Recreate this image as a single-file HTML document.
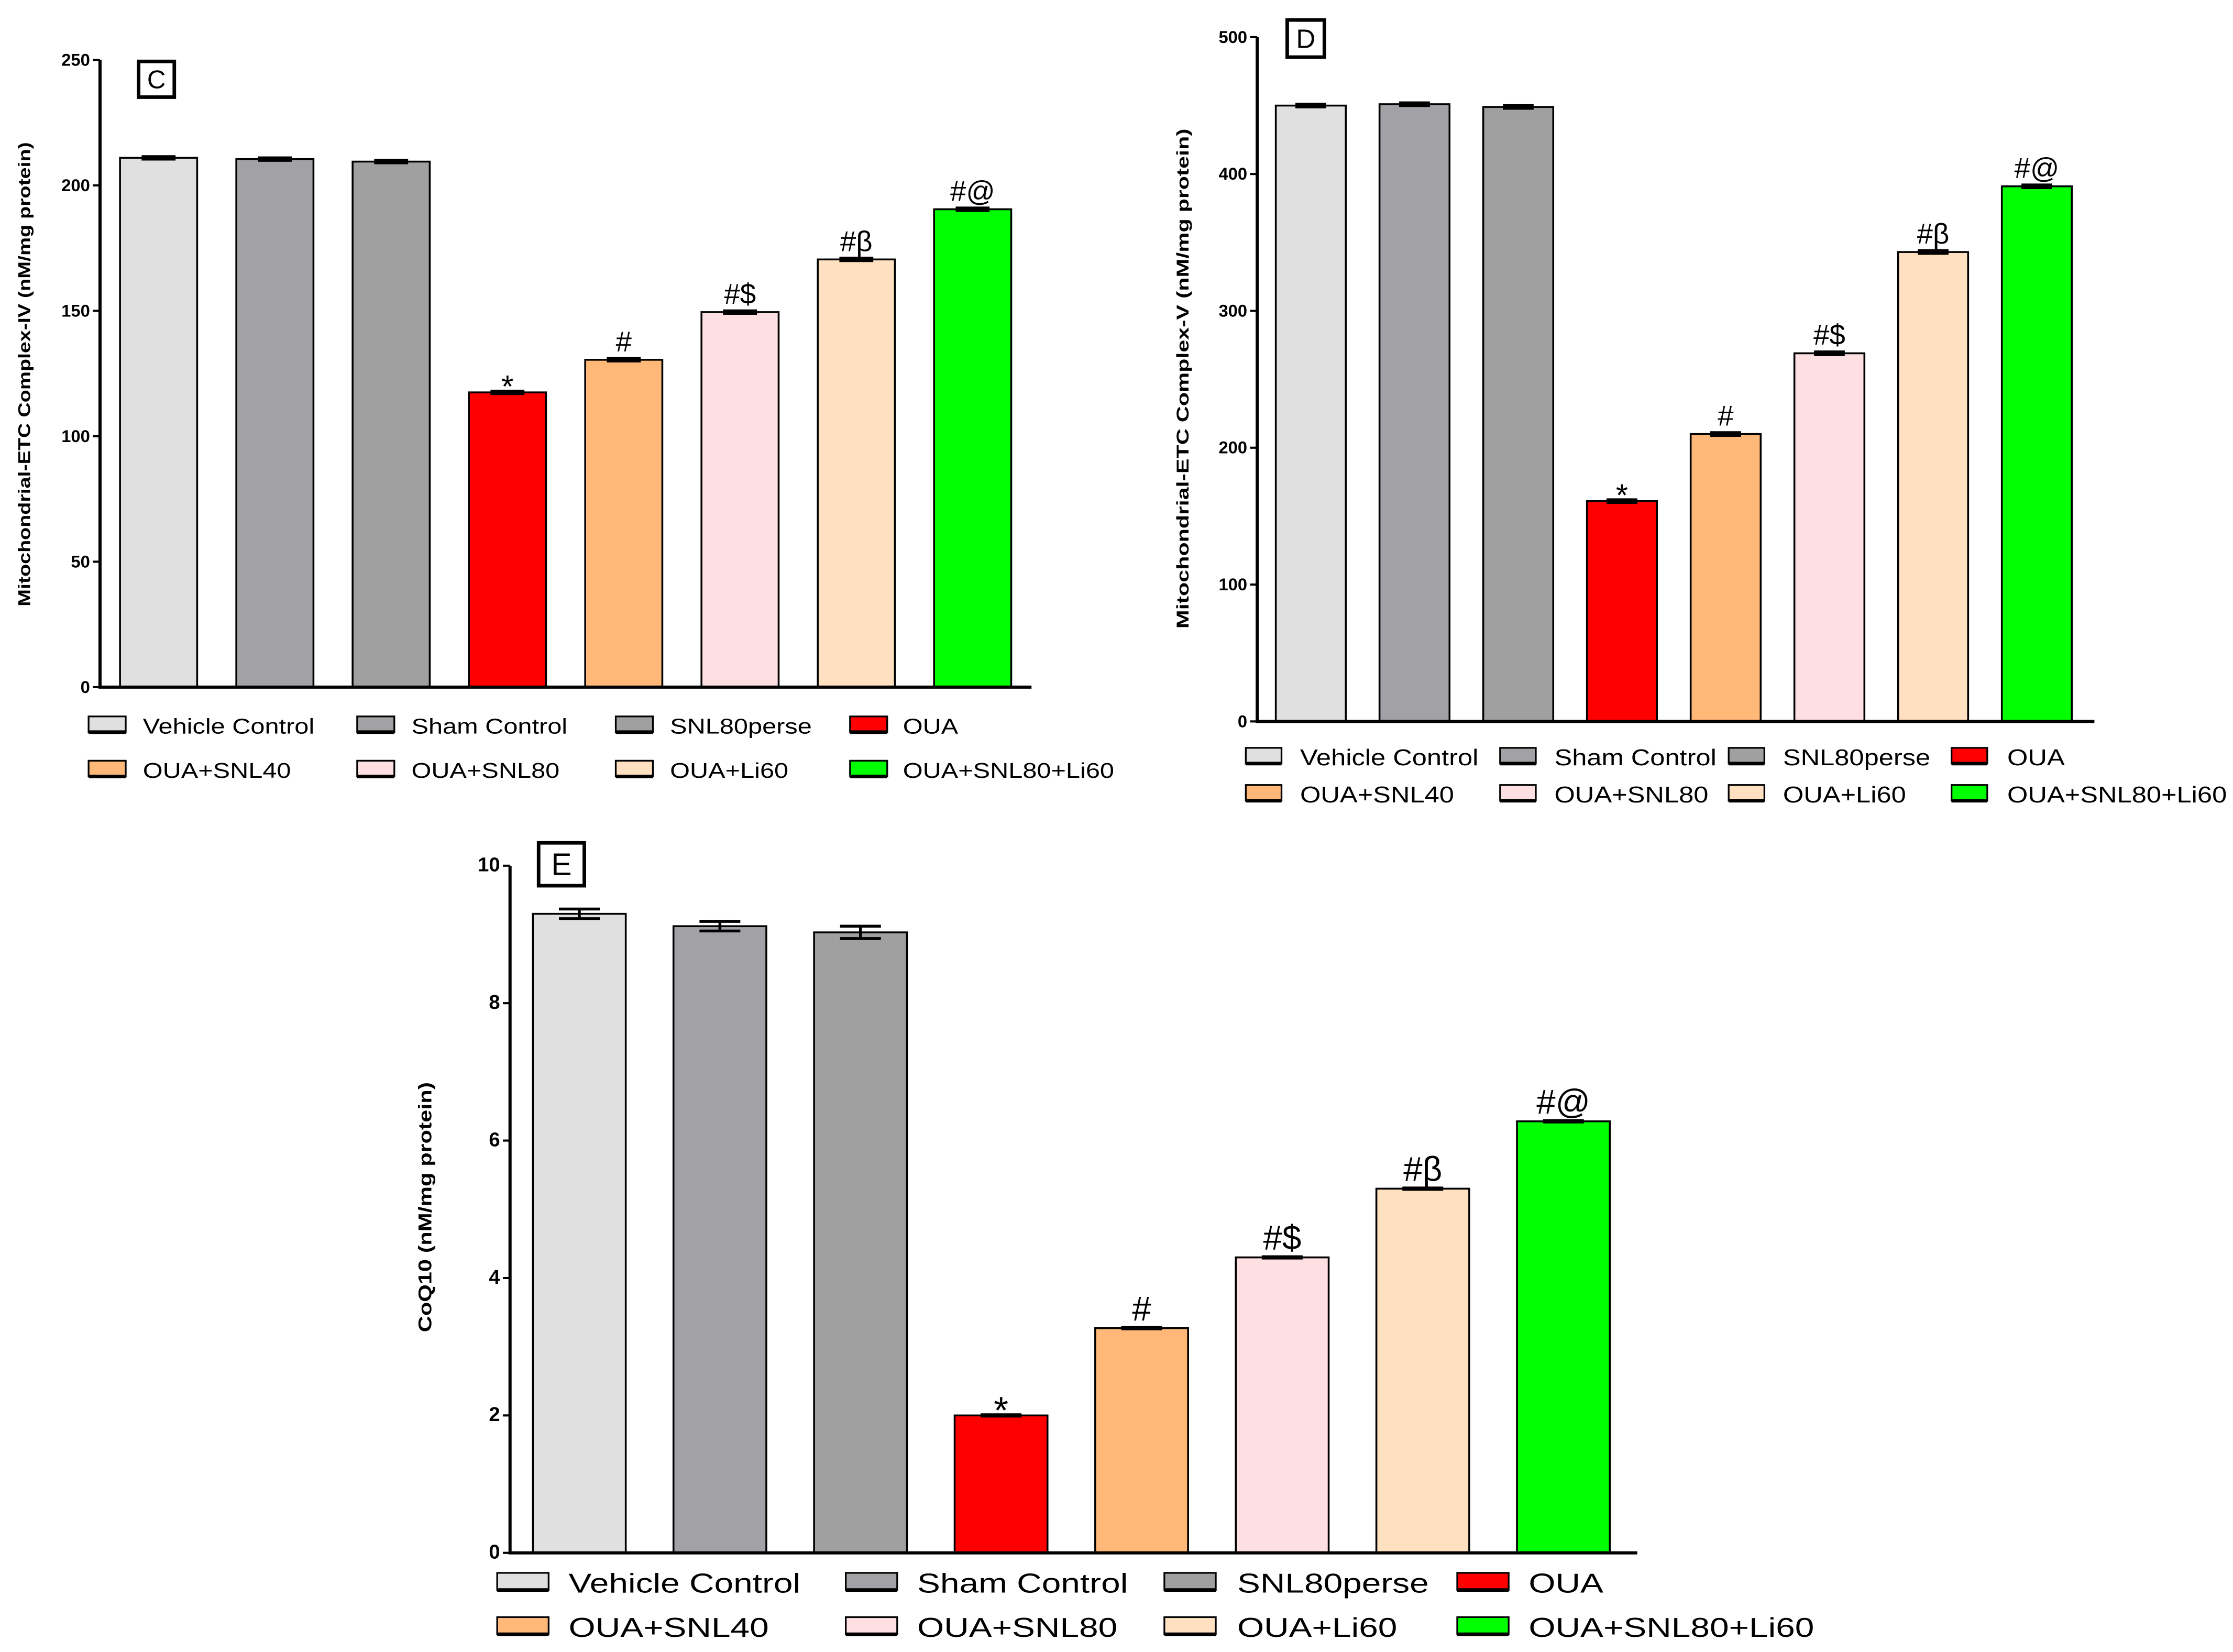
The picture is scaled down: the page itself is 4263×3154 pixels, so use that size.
<!DOCTYPE html>
<html><head><meta charset="utf-8">
<style>
html,body{margin:0;padding:0;background:#fff;}
svg{display:block;}
text{font-family:"Liberation Sans",Arial,sans-serif;}
</style></head>
<body>
<svg id="fig" width="4263" height="3154" viewBox="0 0 1563 1156.4" xmlns="http://www.w3.org/2000/svg"></svg>
<script>
const categories = ["Vehicle Control","Sham Control","SNL80perse","OUA","OUA+SNL40","OUA+SNL80","OUA+Li60","OUA+SNL80+Li60"];
const colors = ["#e0e0e0","#a2a2a6","#a0a0a0","#ff0000","#ffb878","#ffe0e2","#ffe0c0","#00ff00"];
const annotations = ["","","","*","#","#$","#\u03b2","#@"];
const valuesC = [211, 210.5, 209.5, 117.5, 130.5, 149.5, 170.5, 190.5];
const errorsC = [0.5, 0.5, 0.5, 0.5, 0.5, 0.5, 0.5, 0.5];
const ticksC = [0, 50, 100, 150, 200, 250];
const valuesD = [450, 451, 449, 161, 210, 269, 343, 391];
const errorsD = [1, 1, 1, 1, 1, 1, 1, 1];
const ticksD = [0, 100, 200, 300, 400, 500];
const valuesE = [9.3, 9.12, 9.03, 2.0, 3.27, 4.3, 5.3, 6.28];
const errorsE = [0.07, 0.07, 0.09, 0.01, 0.01, 0.01, 0.01, 0.01];
const ticksE = [0, 2, 4, 6, 8, 10];

const NS="http://www.w3.org/2000/svg";
const svg=document.getElementById('fig');
function mk(tag,attrs,parent,txt){const e=document.createElementNS(NS,tag);for(const k in attrs)e.setAttribute(k,attrs[k]);if(txt!==undefined)e.textContent=txt;(parent||svg).appendChild(e);return e;}

function panel(p){
  const g=mk('g',{});
  
  
  const ymax=p.ticks[p.ticks.length-1];
  const y=v=>p.bottom-(v/ymax)*(p.bottom-p.top);
  p.values.forEach((v,i)=>{
    const x=p.x0+i*p.step;
    const r=mk('rect',{x:x,y:y(v),width:p.bw,height:p.bottom-y(v),fill:colors[i],stroke:'#000','stroke-width':1.3},g);
    
    
    const cx=x+p.bw/2, e=p.errors[i], hw=p.bw*0.22;
    const eb=mk('path',{d:`M${cx-hw},${y(v+e)}H${cx+hw}M${cx},${y(v+e)}V${y(v-e)}M${cx-hw},${y(v-e)}H${cx+hw}`,stroke:'#000','stroke-width':2,fill:'none'},g);
    
    
    if(annotations[i]){
      const star=annotations[i]==='*';
      const fs=star?p.afs*1.1:p.afs;
      const t=mk('text',{x:cx,y:y(v+e)-(star?-fs*0.38+4:5),'text-anchor':'middle','font-size':fs,fill:'#000'},g,annotations[i]);
      
      
    }
  });
  const ax=mk('path',{d:`M${p.ax},${p.top}V${p.bottom}H${p.axEnd}`,stroke:'#000','stroke-width':2.2,fill:'none'},g);
  
  
  p.ticks.forEach(tv=>{
    mk('line',{x1:p.ax-5,x2:p.ax,y1:y(tv),y2:y(tv),stroke:'#000','stroke-width':1.5},g);
    const t=mk('text',{x:p.ax-7,y:y(tv)+4,'text-anchor':'end','font-size':p.tfs,'font-weight':'bold'},g,tv);
    
    
  });
  const yl=mk('text',{x:0,y:0,transform:`translate(${p.ylx},${p.yly}) rotate(-90)`,'text-anchor':'middle','font-size':p.ylfs,'font-weight':'bold',textLength:p.ylLen,lengthAdjust:'spacingAndGlyphs'},g,p.ylabel);
  
  
  const b=mk('rect',{x:p.box[0],y:p.box[1],width:p.box[2],height:p.box[3],fill:'#fff',stroke:'#000','stroke-width':2.5},g);
  
  
  const bl=mk('text',{x:p.box[0]+p.box[2]/2,y:p.box[1]+p.box[3]*0.75,'text-anchor':'middle','font-size':p.box[3]*0.72},g,p.id);
  
  
  categories.forEach((c,i)=>{
    const row=Math.floor(i/4), col=i%4;
    const sx=p.legSx[col], ty=p.legY[row];
    const le=mk('g',{},g);
    
    
    mk('rect',{x:sx,y:ty-p.sw[1]/2-1,width:p.sw[0],height:p.sw[1],fill:colors[i],stroke:'#000','stroke-width':1.2},le);
    mk('line',{x1:sx,x2:sx+p.sw[0],y1:ty+p.sw[1]/2-1,y2:ty+p.sw[1]/2-1,stroke:'#000','stroke-width':2.5},le);
    const t=mk('text',{x:p.legTx[col],y:ty+p.lfs*0.36,'font-size':p.lfs},le,c);
    const w=t.getComputedTextLength();
    if(w>0){t.setAttribute('textLength',w*p.lstretch);t.setAttribute('lengthAdjust','spacingAndGlyphs');}
  });
}

panel({id:'C',values:valuesC,errors:errorsC,ticks:ticksC,ax:70,top:42,bottom:481,axEnd:722,x0:84,step:81.4,bw:54,
  afs:20,tfs:12,ylabel:'Mitochondrial-ETC Complex-IV (nM/mg protein)',ylx:21,yly:262,ylfs:12,ylLen:325,
  box:[97,43,25,25],legSx:[62,250,431,595],legTx:[100,288,469,632],legY:[508,539],sw:[26,11],lfs:15,lstretch:1.19});
panel({id:'D',values:valuesD,errors:errorsD,ticks:ticksD,ax:880,top:26,bottom:505,axEnd:1466,x0:893,step:72.6,bw:49,
  afs:20,tfs:12,ylabel:'Mitochondrial-ETC Complex-V (nM/mg protein)',ylx:832,yly:265,ylfs:12,ylLen:350,
  box:[901,14,26,26],legSx:[872,1050,1210,1366],legTx:[910,1088,1248,1405],legY:[530,556],sw:[25,11],lfs:16,lstretch:1.16});
panel({id:'E',values:valuesE,errors:errorsE,ticks:ticksE,ax:357,top:606,bottom:1087,axEnd:1146,x0:373,step:98.4,bw:65,
  afs:24,tfs:14,ylabel:'CoQ10 (nM/mg protein)',ylx:302,yly:845,ylfs:13,ylLen:175,
  box:[377,590,32,30],legSx:[348,592,815,1020],legTx:[398,642,866,1070],legY:[1108,1139],sw:[36,12],lfs:19,lstretch:1.27});
</script>
</body></html>
